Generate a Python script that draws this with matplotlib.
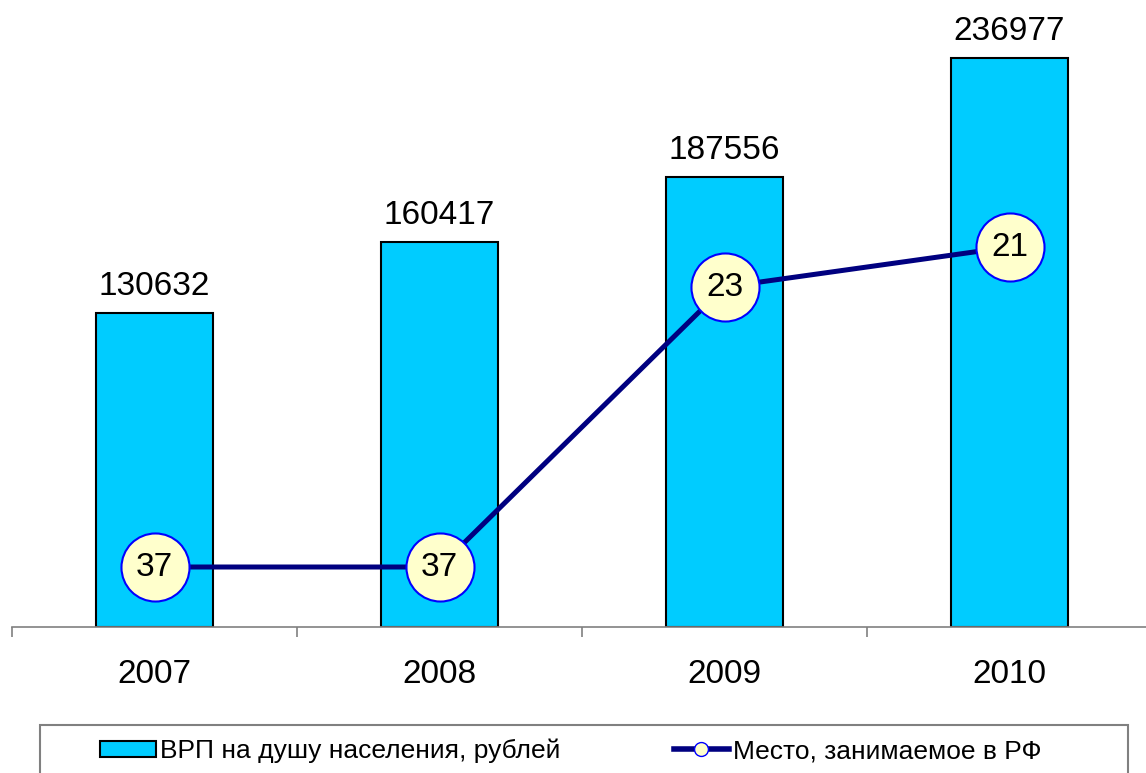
import matplotlib.pyplot as plt
from matplotlib.patches import Rectangle
from matplotlib.lines import Line2D

plt.rcParams['font.family'] = ['Liberation Sans', 'DejaVu Sans']

years = ['2007', '2008', '2009', '2010']
grp = [130632, 160417, 187556, 236977]
rank = [37, 37, 23, 21]

bar_color = '#00CCFF'
line_color = '#000080'

W, H = 1146, 773
fig = plt.figure(figsize=(W / 100, H / 100), dpi=100)
ax = fig.add_axes([12 / W, (H - 627) / H, 4 * 285 / W, 600 / H])

x = list(range(len(years)))
ax.bar(x, grp, width=0.41, color=bar_color, edgecolor='black', linewidth=1.5, zorder=2)
for xi, v in zip(x, grp):
    ax.annotate(str(v), (xi, v), xytext=(0, 13), textcoords='offset points',
                ha='center', va='baseline', fontsize=24)

ax.set_xlim(-0.5, len(years) - 0.5)
ax.set_ylim(0, 250000)
ax.set_yticks([])
for s in ['top', 'left', 'right']:
    ax.spines[s].set_visible(False)
ax.spines['bottom'].set_color('#808080')
ax.spines['bottom'].set_linewidth(1.2)
ax.set_xticks(x)
ax.set_xticklabels(years, fontsize=24)
ax.tick_params(axis='x', which='major', length=0, pad=23)
ax.set_xticks([i - 0.5 for i in range(len(years) + 1)], minor=True)
ax.tick_params(axis='x', which='minor', length=7.2, color='#808080', width=1.2)

ax2 = ax.twinx()
ax2.set_ylim(40, 10)
ax2.set_yticks([])
for s in ax2.spines.values():
    s.set_visible(False)
ax2.plot(x, rank, color=line_color, linewidth=3.6, marker='o', markersize=49,
         markerfacecolor='#FFFFCC', markeredgecolor='#0000FF', markeredgewidth=1.5, zorder=3)
for xi, r in zip(x, rank):
    ax2.text(xi, r, str(r), ha='center', va='center', fontsize=24, zorder=4)

# legend box
fig.patches.append(Rectangle((40 / W, -0.05), 1088 / W, (H - 725) / H + 0.05,
                             transform=fig.transFigure, facecolor='white',
                             edgecolor='#808080', linewidth=1.5))
handles = [Rectangle((0, 0), 1, 1, facecolor=bar_color, edgecolor='black', linewidth=1.5),
           Line2D([], [], color=line_color, linewidth=4, marker='o', markersize=10,
                  markerfacecolor='#FFFFCC', markeredgecolor='#0000FF', markeredgewidth=1)]
fig.legend(handles, ['ВРП на душу населения, рублей', 'Место, занимаемое в РФ'],
           loc='center', bbox_to_anchor=(571 / W, (H - 751) / H), ncol=2, frameon=False,
           fontsize=19, handlelength=2.1, handleheight=0.6, handletextpad=0.15,
           columnspacing=4.3)

plt.savefig('out.png', dpi=100)
